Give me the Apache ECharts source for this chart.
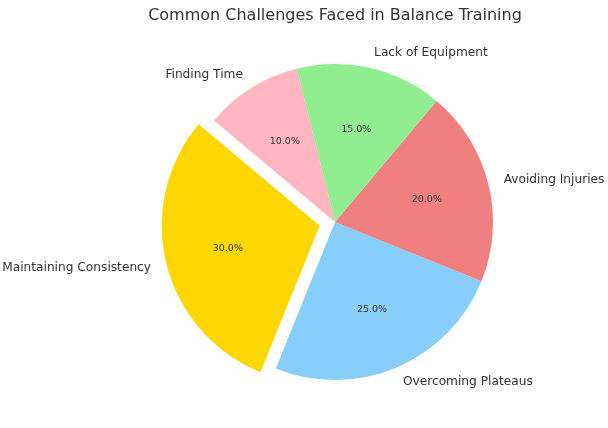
<!DOCTYPE html>
<html>
<head>
<meta charset="utf-8">
<script src="https://cdn.jsdelivr.net/npm/echarts@6/dist/echarts.min.js"></script>
<style>
  html, body { margin: 0; padding: 0; background: #fff; }
  #chart { width: 608px; height: 428px; }
</style>
</head>
<body>
<div id="chart"></div>
<script>
// categories and shares (percent)
const categories = [
  "Maintaining Consistency",
  "Overcoming Plateaus",
  "Avoiding Injuries",
  "Lack of Equipment",
  "Finding Time",
];
const shares = [30, 25, 20, 15, 10];
const colors = ["#FFD700", "#87CEFA", "#F08080", "#90EE90", "#FFB6C1"];
const exploded = [true, false, false, false, false];

const R = 158;
const center = [335, 222];
const font = "DejaVu Sans";

let myChart = echarts.init(document.getElementById("chart"));

const base = {
  type: "pie",
  center: center,
  startAngle: 140,
  clockwise: false,
  selectedMode: "multiple",
  selectedOffset: R * 0.1,
  avoidLabelOverlap: false,
  silent: true,
  animation: false,
};

myChart.setOption({
  title: {
    text: "Common Challenges Faced in Balance Training",
    left: 330,
    top: 3,
    textAlign: "center",
    textStyle: { fontFamily: font, fontSize: 16, fontWeight: "normal", color: "#333" },
  },
  series: [
    // wedges + outer names
    Object.assign({}, base, {
      radius: R,
      data: categories.map((c, i) => ({
        name: c,
        value: shares[i],
        selected: exploded[i],
        itemStyle: { color: colors[i] },
      })),
      label: {
        show: true,
        position: "outside",
        formatter: "{b}",
        fontFamily: font,
        fontSize: 12.2,
        color: "#333",
        distanceToLabelLine: 0,
      },
      labelLine: { show: false, length: R * 0.1, length2: 0 },
      emphasis: { disabled: true },
    }),
    // percent labels at 0.6 R
    Object.assign({}, base, {
      radius: R * 1.16,
      data: categories.map((c, i) => ({
        name: c,
        value: shares[i],
        selected: exploded[i],
        itemStyle: { color: "rgba(0,0,0,0)" },
      })),
      label: {
        show: true,
        position: "inside",
        formatter: (p) => p.value.toFixed(1) + "%",
        fontFamily: font,
        fontSize: 9.5,
        color: "#333",
      },
      labelLine: { show: false },
      emphasis: { disabled: true },
    }),
  ],
});
</script>
</body>
</html>
